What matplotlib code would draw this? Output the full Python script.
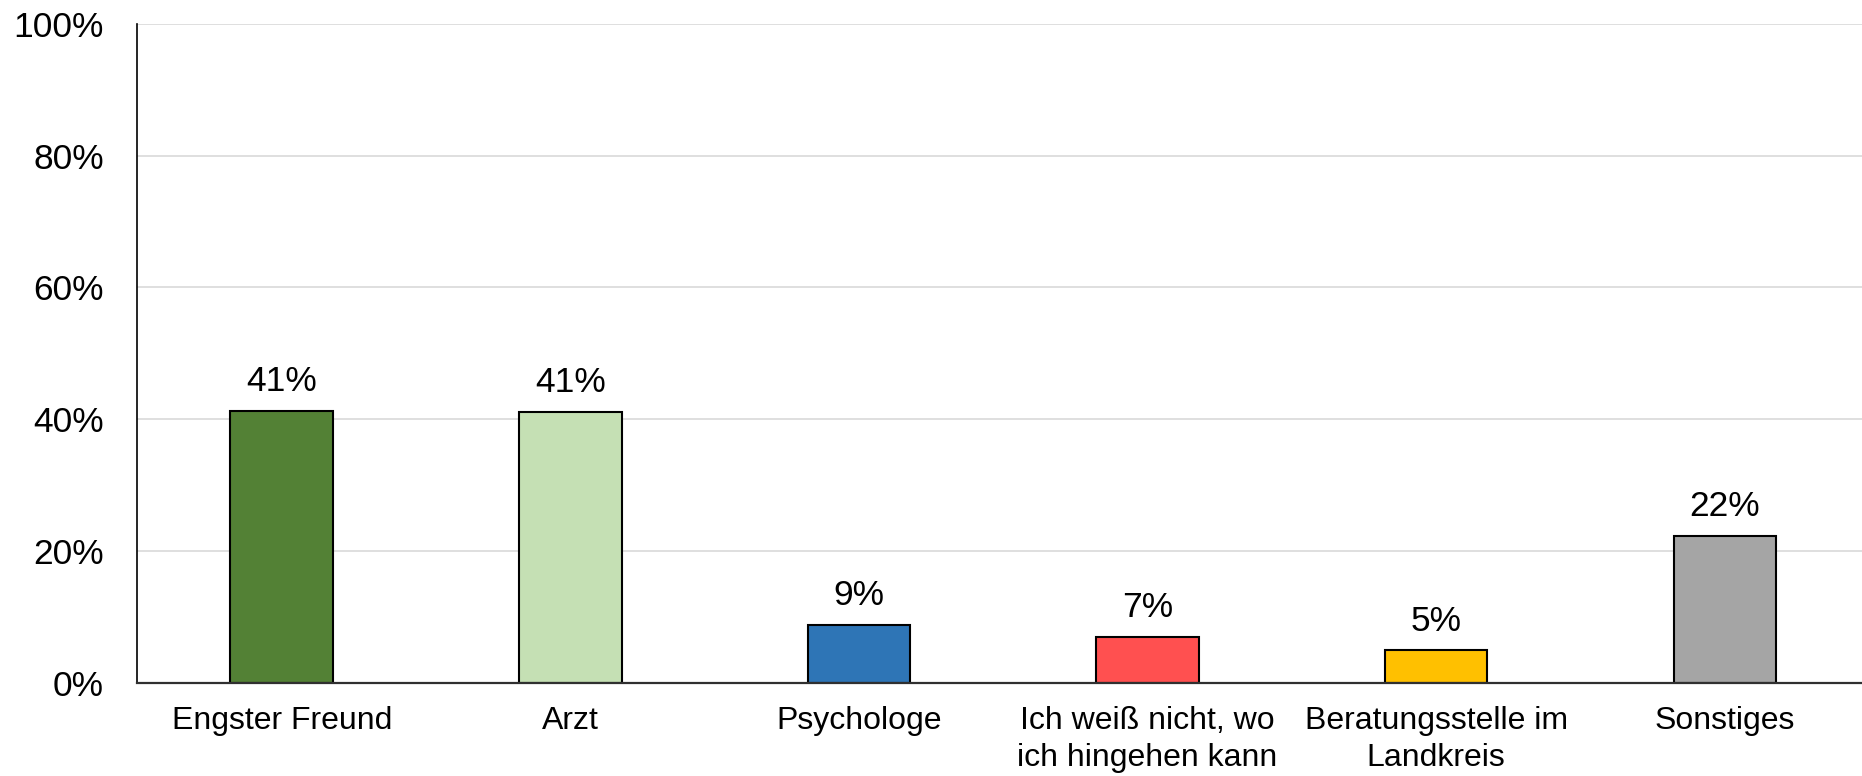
import matplotlib.pyplot as plt
import numpy as np

plt.rcParams['font.family'] = ['Liberation Sans', 'DejaVu Sans']

# answers and their shares (percent)
categories = ['Engster Freund', 'Arzt', 'Psychologe',
              'Ich weiß nicht, wo\nich hingehen kann',
              'Beratungsstelle im\nLandkreis', 'Sonstiges']
shares = [41.3, 41.1, 8.8, 7.0, 4.9, 22.3]
bar_labels = ['41%', '41%', '9%', '7%', '5%', '22%']
colors = ['#538135', '#C5E0B4', '#2E75B6', '#FF5050', '#FFC000', '#A5A5A5']
yticks = [0, 20, 40, 60, 80, 100]

fig = plt.figure(figsize=(18.62, 7.76), dpi=100)
ax = fig.add_axes([0.0738, 0.1202, 0.930, 0.8492])

x = np.arange(len(categories))
ax.bar(x, shares, width=0.355, color=colors, edgecolor='black', linewidth=1.5, zorder=3)

for xi, val, lab in zip(x, shares, bar_labels):
    ax.annotate(lab, (xi, val), xytext=(0, 14), textcoords='offset points',
                ha='center', va='baseline', fontsize=25.5)

ax.set_xlim(-0.5, len(categories) - 0.5)
ax.set_ylim(0, 100)
ax.set_yticks(yticks)
ax.set_yticklabels(['{}%'.format(t) for t in yticks], fontsize=25.5)
ax.set_xticks(x)
ax.set_xticklabels(categories, fontsize=23, linespacing=1.3)
ax.tick_params(axis='both', length=0)
ax.tick_params(axis='x', pad=17)
ax.tick_params(axis='y', pad=24)

ax.grid(axis='y', color='#d9d9d9', linewidth=1.2, zorder=0)
for side in ['top', 'right']:
    ax.spines[side].set_visible(False)
ax.spines['left'].set_color('black')
ax.spines['left'].set_linewidth(1.2)
ax.spines['bottom'].set_color('#303030')
ax.spines['bottom'].set_linewidth(1.6)
ax.spines['bottom'].set_zorder(4)

fig.savefig('out.png', dpi=100)
